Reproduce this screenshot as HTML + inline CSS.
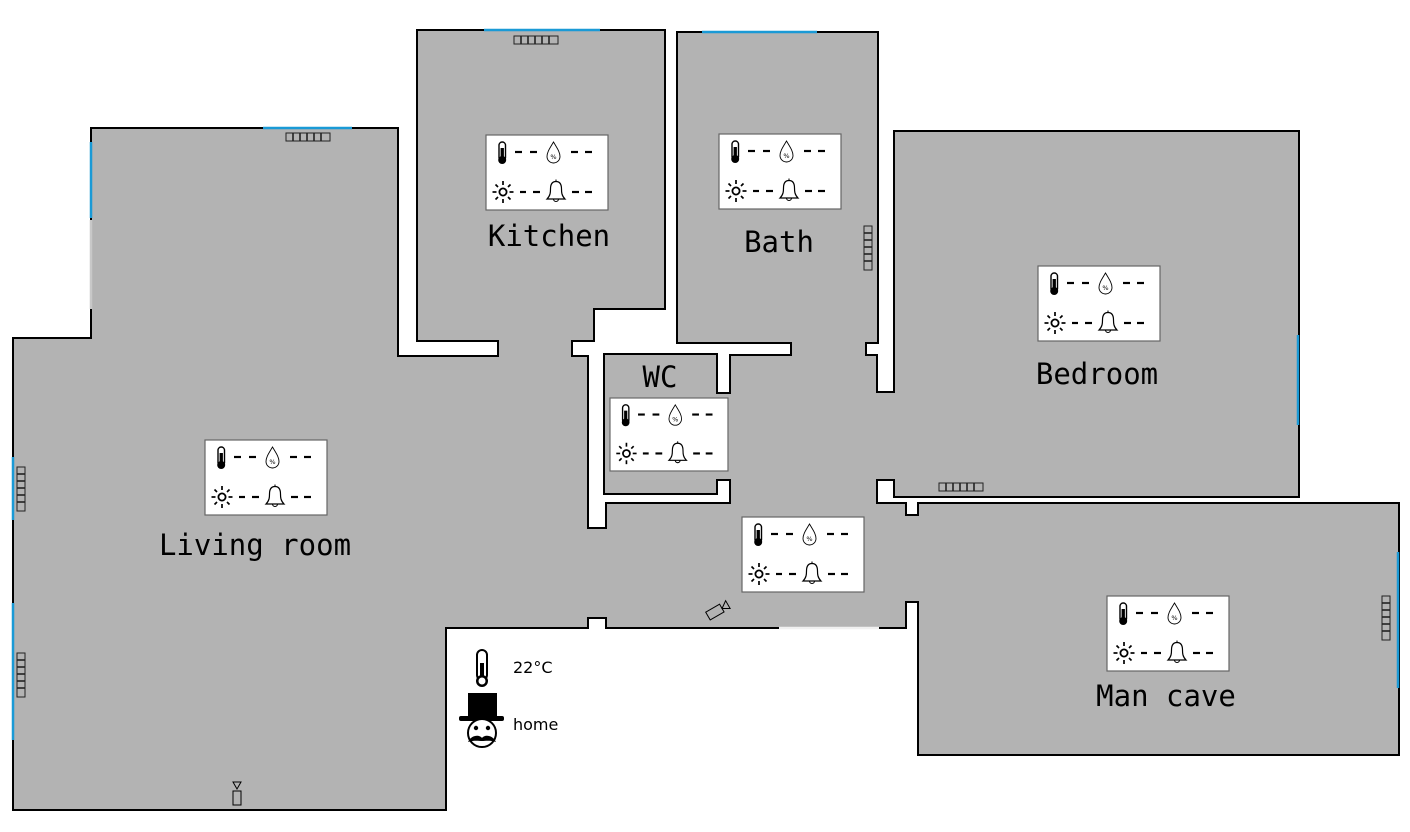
<!DOCTYPE html>
<html><head><meta charset="utf-8">
<style>
html,body{margin:0;padding:0;background:#fff;}
svg{display:block;}
.lbl{font-family:"DejaVu Sans Mono","Liberation Mono",monospace;font-size:29px;fill:#000;}
.st{font-family:"DejaVu Sans","Liberation Sans",sans-serif;font-size:16px;fill:#000;}
</style></head><body>
<svg width="1410" height="832" viewBox="0 0 1410 832" xmlns="http://www.w3.org/2000/svg">
<defs>
<g id="box">
  <rect x="0" y="0" width="122" height="75" fill="#fff" stroke="#666" stroke-width="1.2"/>
  <!-- thermometer -->
  <rect x="13" y="7" width="6.5" height="19" rx="3.2" fill="#fff" stroke="#000" stroke-width="1.4"/>
  <rect x="14.6" y="13" width="3.3" height="12" fill="#000"/>
  <circle cx="16.2" cy="25" r="4" fill="#000"/>
  <g stroke="#000" stroke-width="2.2">
    <line x1="29" y1="17" x2="36" y2="17"/><line x1="44" y1="17" x2="51" y2="17"/>
    <line x1="85" y1="17" x2="92" y2="17"/><line x1="99" y1="17" x2="106" y2="17"/>
    <line x1="34" y1="57" x2="40" y2="57"/><line x1="47" y1="57" x2="54" y2="57"/>
    <line x1="86" y1="57" x2="93" y2="57"/><line x1="99" y1="57" x2="106" y2="57"/>
  </g>
  <!-- drop -->
  <path d="M67.5 7 C64 13 61 17 61 21.5 A6.5 6.5 0 0 0 74 21.5 C74 17 71 13 67.5 7 Z" fill="none" stroke="#000" stroke-width="0.9"/>
  <text x="67.5" y="24" font-size="6.5" text-anchor="middle" font-family="DejaVu Sans,sans-serif">%</text>
  <!-- sun -->
  <circle cx="17" cy="57" r="3.6" fill="none" stroke="#000" stroke-width="1.8"/>
  <g stroke="#000" stroke-width="1.7">
    <line x1="17" y1="46" x2="17" y2="50"/><line x1="17" y1="64" x2="17" y2="68"/>
    <line x1="6.5" y1="57" x2="10.5" y2="57"/><line x1="23.5" y1="57" x2="27.5" y2="57"/>
    <line x1="9.5" y1="49.5" x2="12" y2="52"/><line x1="22" y1="62" x2="24.5" y2="64.5"/>
    <line x1="24.5" y1="49.5" x2="22" y2="52"/><line x1="12" y1="62" x2="9.5" y2="64.5"/>
  </g>
  <!-- bell -->
  <path d="M61 64 C64.5 60.5 64.5 57 64.5 54 C64.5 48.5 67 46.5 70 46.5 C73 46.5 75.5 48.5 75.5 54 C75.5 57 75.5 60.5 79 64 Z" fill="none" stroke="#000" stroke-width="1.2"/>
  <line x1="70" y1="44.5" x2="70" y2="46.5" stroke="#000" stroke-width="1"/>
  <path d="M67.5 64 A2.5 2.5 0 0 0 72.5 64" fill="none" stroke="#000" stroke-width="1.1"/>
</g>
<g id="radh">
  <rect x="0" y="-4" width="44" height="8" fill="none" stroke="#222" stroke-width="1"/>
  <g stroke="#222" stroke-width="1.6">
    <line x1="7" y1="-4" x2="7" y2="4"/><line x1="14" y1="-4" x2="14" y2="4"/><line x1="21" y1="-4" x2="21" y2="4"/>
    <line x1="28" y1="-4" x2="28" y2="4"/><line x1="35" y1="-4" x2="35" y2="4"/>
  </g>
</g>
</defs>

<path fill="#b3b3b3" stroke="#000" stroke-width="2" d="
M91 128 L398 128 L398 356 L498 356 L498 341 L417 341 L417 30 L665 30 L665 309 L594 309 L594 341 L572 341 L572 356 L588 356
L588 528 L606 528 L606 503 L730 503 L730 480 L717 480 L717 494 L604 494 L604 354 L717 354 L717 393 L730 393 L730 355
L791 355 L791 343 L677 343 L677 32 L878 32 L878 343 L866 343 L866 355 L877 355 L877 392 L894 392 L894 131 L1299 131
L1299 497 L894 497 L894 480 L877 480 L877 503 L906 503 L906 515 L918 515 L918 503 L1399 503 L1399 755 L918 755
L918 602 L906 602 L906 628 L606 628 L606 618 L588 618 L588 628 L446 628 L446 810 L13 810 L13 338 L91 338 Z"/>

<line x1="91" y1="220" x2="91" y2="309" stroke="#c8c8c8" stroke-width="2.5"/>
<line x1="779" y1="628" x2="879" y2="628" stroke="#f0f0f0" stroke-width="2.5"/>

<g stroke="#1a9ad6" stroke-width="2.5">
  <line x1="484" y1="30" x2="600" y2="30"/>
  <line x1="702" y1="32" x2="817" y2="32"/>
  <line x1="263" y1="128" x2="352" y2="128"/>
  <line x1="91" y1="142" x2="91" y2="218"/>
  <line x1="13" y1="457" x2="13" y2="520"/>
  <line x1="13" y1="603" x2="13" y2="740"/>
  <line x1="1298" y1="335" x2="1298" y2="425"/>
  <line x1="1398" y1="552" x2="1398" y2="688"/>
</g>

<use href="#radh" transform="translate(514,40)"/>
<use href="#radh" transform="translate(286,137)"/>
<use href="#radh" transform="translate(939,487)"/>
<use href="#radh" transform="translate(868,226) rotate(90)"/>
<use href="#radh" transform="translate(21,467) rotate(90)"/>
<use href="#radh" transform="translate(21,653) rotate(90)"/>
<use href="#radh" transform="translate(1386,596) rotate(90)"/>

<use href="#box" transform="translate(205,440)"/>
<use href="#box" transform="translate(486,135)"/>
<use href="#box" transform="translate(719,134)"/>
<use href="#box" transform="translate(1038,266)"/>
<use href="#box" transform="translate(610,398) scale(0.967,0.973)"/>
<use href="#box" transform="translate(742,517)"/>
<use href="#box" transform="translate(1107,596)"/>

<text class="lbl" x="255" y="555" text-anchor="middle">Living room</text>
<text class="lbl" x="549" y="246" text-anchor="middle">Kitchen</text>
<text class="lbl" x="779" y="252" text-anchor="middle">Bath</text>
<text class="lbl" x="1097" y="384" text-anchor="middle">Bedroom</text>
<text class="lbl" x="660" y="387" text-anchor="middle">WC</text>
<text class="lbl" x="1166" y="706" text-anchor="middle">Man cave</text>

<g transform="translate(716,612) rotate(-30)" fill="none" stroke="#000" stroke-width="1">
  <rect x="-9" y="-5" width="16" height="9"/>
  <path d="M7 0 L14 -5 L14 4 Z"/>
</g>
<g fill="none" stroke="#000" stroke-width="1">
  <path d="M233 782 L241 782 L237 789 Z"/>
  <rect x="233" y="791" width="8" height="14"/>
</g>

<g>
  <rect x="477" y="650" width="10" height="30" rx="5" fill="#fff" stroke="#000" stroke-width="2"/>
  <rect x="480" y="663" width="4" height="16" fill="#000"/>
  <circle cx="482" cy="681" r="6" fill="#000"/>
  <circle cx="482" cy="681" r="3.5" fill="#fff"/>
  <text class="st" x="513" y="673">22°C</text>
  <rect x="468" y="693" width="29" height="25" fill="#000"/>
  <rect x="459" y="716" width="45" height="5" rx="2" fill="#000"/>
  <circle cx="482" cy="733" r="14" fill="#fff" stroke="#000" stroke-width="2"/>
  <circle cx="476" cy="728" r="2.2" fill="#000"/>
  <circle cx="488" cy="728" r="2.2" fill="#000"/>
  <path d="M468 742 C472 734 480 735 482 738 C484 735 492 734 496 742 C490 740 485 741 482 741 C479 741 474 740 468 742 Z" fill="#000"/>
  <text class="st" x="513" y="730">home</text>
</g>
</svg>
</body></html>
